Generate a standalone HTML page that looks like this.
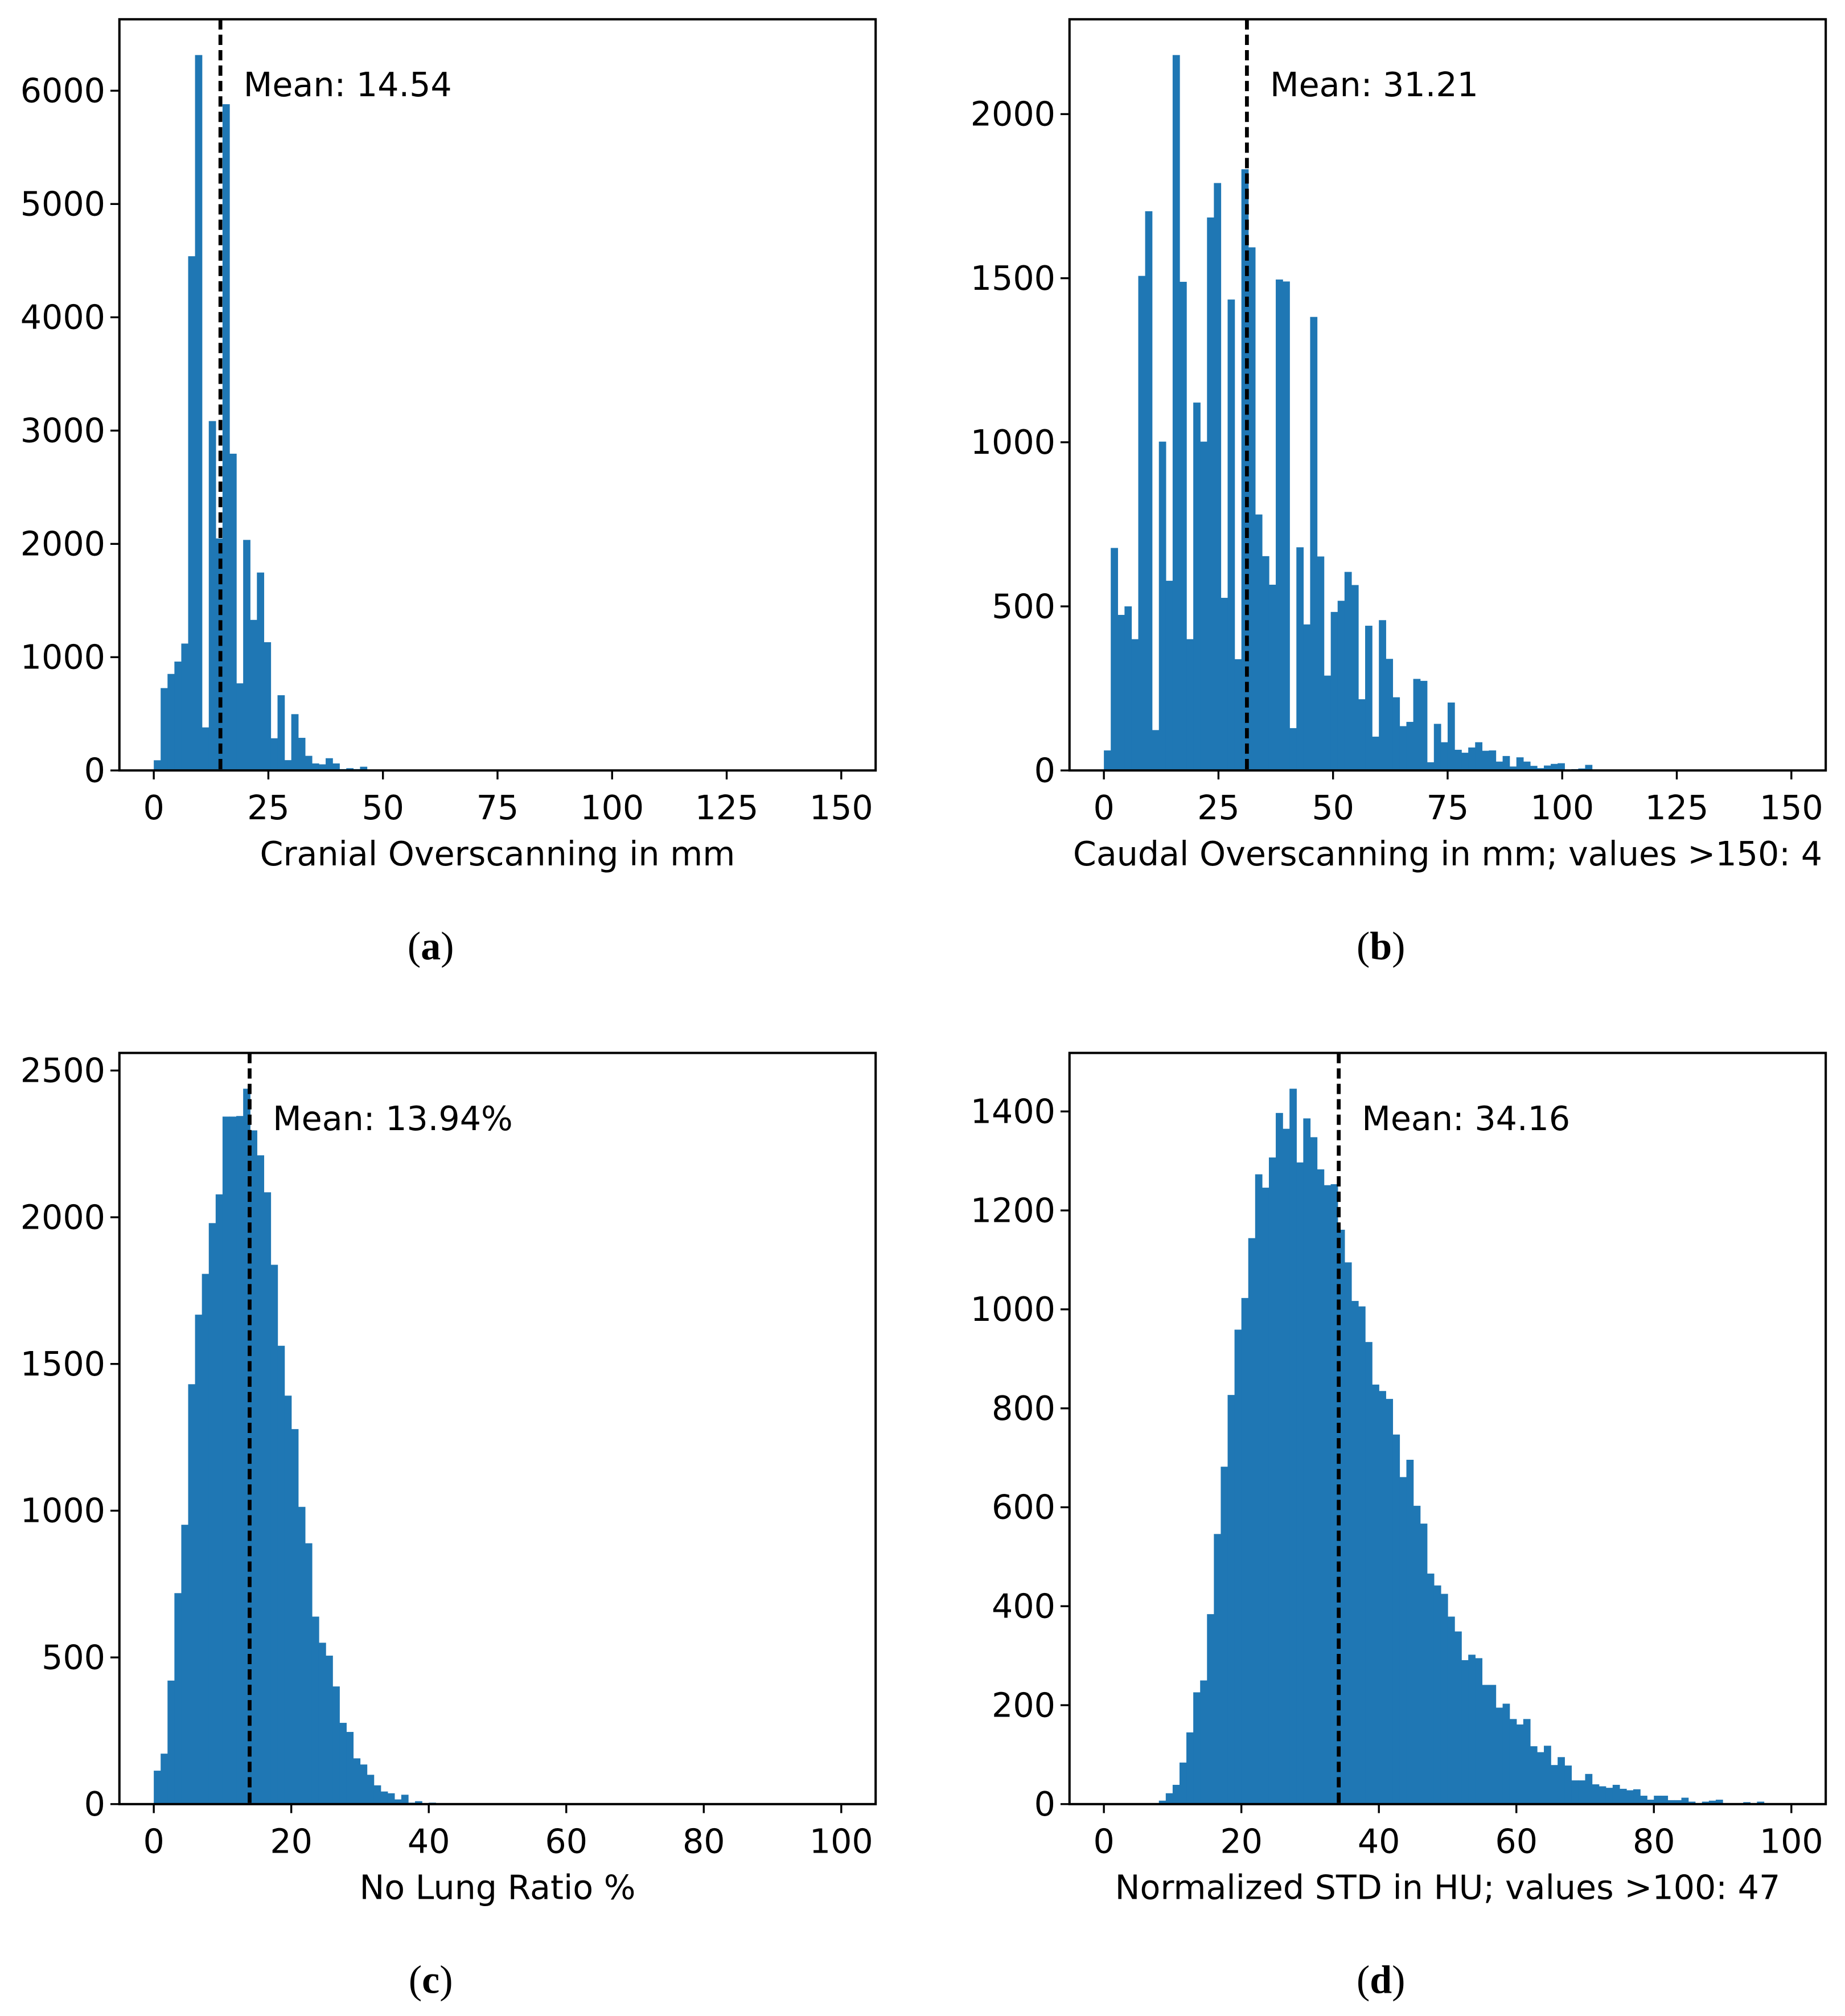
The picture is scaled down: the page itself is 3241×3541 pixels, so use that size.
<!DOCTYPE html>
<html><head><meta charset="utf-8"><style>
html,body{margin:0;padding:0;background:#fff}
svg{display:block}
text{font-family:"DejaVu Sans","Liberation Sans",sans-serif;fill:#000}
.cap{font-family:"Liberation Serif","DejaVu Serif",serif}
</style></head><body>
<svg id="fig" width="3241" height="3541" viewBox="0 0 1437 1570" xmlns="http://www.w3.org/2000/svg"></svg>
<script>
// Panel (a) – cranial overscanning, 100 bins over 0..150
const countsA = [90,727,852,961,1120,4539,6315,380,3084,2048,5881,2796,769,2035,1329,1747,1132,284,664,91,497,288,129,62,54,108,62,12,20,12,33];
// Panel (b) – caudal overscanning, 100 bins over 0..150
const countsB = [61,678,474,500,400,1507,1704,123,1002,578,2180,1489,400,1121,1002,1685,1790,526,1435,339,1832,1594,780,653,566,1496,1490,129,680,445,1382,652,289,483,517,605,565,217,441,103,458,340,223,135,148,279,273,25,142,86,207,63,54,70,86,60,61,27,44,12,40,27,14,7,15,20,22,0,4,6,17,3,3,2,2,1,1,3,1];
// Panel (c) – no lung ratio, 100 bins over 0..100
const countsC = [114,172,421,719,952,1431,1668,1807,1980,2078,2343,2343,2345,2438,2296,2211,2085,1838,1562,1392,1278,1013,889,639,550,506,401,277,246,156,135,100,64,43,37,16,32,5,10,0,5,0,0,0,0,0,3];
// Panel (d) – normalized STD, 100 bins over 0..100
const countsD = [0,0,0,0,0,0,0,0,7,22,39,84,145,226,250,384,546,682,827,959,1023,1144,1273,1246,1307,1397,1365,1446,1297,1386,1348,1283,1251,1253,1161,1095,1017,1006,934,848,835,819,747,661,696,603,567,466,442,425,379,349,291,302,295,241,241,195,203,172,161,172,117,105,118,79,95,78,48,48,61,40,36,33,39,31,28,30,17,9,17,17,8,8,13,5,2,5,7,9,2,0,0,4,2,5,1,1,0,0];
const meansArr = [14.54, 31.21, 13.94, 34.16];
const meanLabels = ["Mean: 14.54","Mean: 31.21","Mean: 13.94%","Mean: 34.16"];
const xTicksAB = [0,25,50,75,100,125,150];
const xTicksCD = [0,20,40,60,80,100];
const yTicksA = [0,1000,2000,3000,4000,5000,6000];
const yTicksB = [0,500,1000,1500,2000];
const yTicksC = [0,500,1000,1500,2000,2500];
const yTicksD = [0,200,400,600,800,1000,1200,1400];
const xLabels = ["Cranial Overscanning in mm","Caudal Overscanning in mm; values >150: 4","No Lung Ratio %","Normalized STD in HU; values >100: 47"];
const captions = ["a","b","c","d"];

const NS="http://www.w3.org/2000/svg";
const fig=document.getElementById('fig');
function mk(tag,attrs,parent){const e=document.createElementNS(NS,tag);for(const k in attrs)e.setAttribute(k,attrs[k]);parent.appendChild(e);return e;}

function panel(idx,ox,oy,counts,xmax,xticks,yticks){
  const W=589,H=585;
  const g=mk('g',{},fig);
  
  
  const pad=xmax*0.05;
  const xs=v=>ox+(v+pad)/(xmax+2*pad)*W;
  const ymax=Math.max(...counts)*1.05;
  const ys=v=>oy+H-v/ymax*H;
  const bw=xmax/100;
  counts.forEach((c,i)=>{
    if(c<=0)return;
    const r=mk('rect',{x:xs(i*bw),y:ys(c),width:xs((i+1)*bw)-xs(i*bw)+0.3,height:ys(0)-ys(c),fill:'#1f77b4'},g);
    
    
  });
  const m=meansArr[idx];
  const ml=mk('line',{x1:xs(m),x2:xs(m),y1:oy,y2:oy+H,stroke:'#000','stroke-width':3,'stroke-dasharray':'8,4'},g);
  
  
  const mt=mk('text',{x:xs(m)+18,y:oy+60,'font-size':26},g);
  mt.textContent=meanLabels[idx];
  
  
  const fr=mk('rect',{x:ox,y:oy,width:W,height:H,fill:'none',stroke:'#000','stroke-width':1.8},g);
  
  
  xticks.forEach(t=>{
    mk('line',{x1:xs(t),x2:xs(t),y1:oy+H,y2:oy+H+7,stroke:'#000','stroke-width':1.5},g);
    const tx=mk('text',{x:xs(t),y:oy+H+38,'font-size':26,'text-anchor':'middle'},g);
    tx.textContent=t;
    
    
  });
  yticks.forEach(t=>{
    mk('line',{x1:ox-7,x2:ox,y1:ys(t),y2:ys(t),stroke:'#000','stroke-width':1.5},g);
    const ty=mk('text',{x:ox-11,y:ys(t)+9,'font-size':26,'text-anchor':'end'},g);
    ty.textContent=t;
    
    
  });
  const xl=mk('text',{x:ox+W/2-(idx%2?0:0),y:oy+H+74,'font-size':26,'text-anchor':'middle'},g);
  xl.textContent=xLabels[idx];
  
  
  const cp=mk('text',{x:ox+W/2-52,y:oy+H+147,'font-size':31,'text-anchor':'middle',class:'cap'},g);
  cp.innerHTML='(<tspan font-weight="bold">'+captions[idx]+'</tspan>)';
  
  
}
panel(0,93,15,countsA,150,xTicksAB,yTicksA);
panel(1,833,15,countsB,150,xTicksAB,yTicksB);
panel(2,93,820,countsC,100,xTicksCD,yTicksC);
panel(3,833,820,countsD,100,xTicksCD,yTicksD);
</script>
</body></html>
